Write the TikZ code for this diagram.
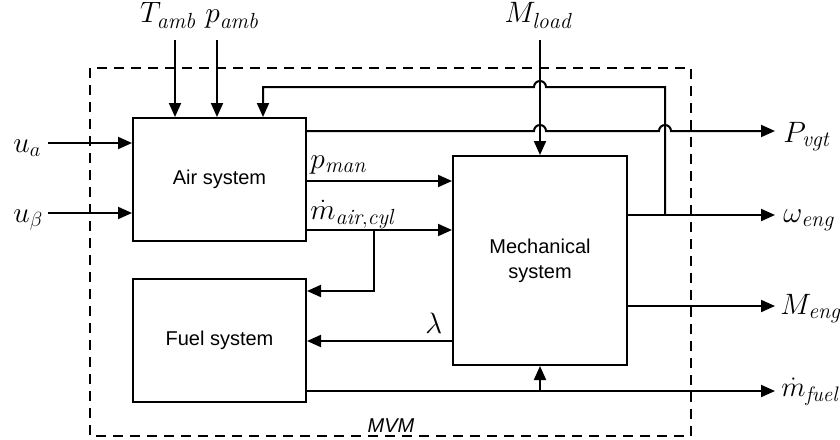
\documentclass[tikz,border=0pt]{standalone}
\usepackage{fontspec}
\setsansfont{Liberation Sans}
\usetikzlibrary{arrows.meta,calc}
\begin{document}
\begin{tikzpicture}[x=1pt,y=-1pt,line width=2pt,
  blk/.style={draw,line width=2pt,inner sep=0pt,align=center,
    font=\sffamily\fontsize{20}{25}\selectfont},
  arr/.style={-{Triangle[length=14pt,width=12pt]}},
  lbl/.style={inner sep=0pt,scale=1.42,font=\fontsize{22}{26}\selectfont},
  mvmbox/.style={dash pattern=on 10pt off 7pt,line width=1.5pt}]
\useasboundingbox (0,0) rectangle (840,439);
% boundary
\draw[mvmbox] (90,68) rectangle (691,436);
\node[inner sep=0pt,anchor=base,font=\sffamily\itshape\fontsize{20}{22}\selectfont] (mvm) at (391,432) {MVM};
% blocks
\node[blk,minimum width=173pt,minimum height=123pt] (air) at (219.5,179.5) {Air system};
\node[blk,minimum width=173pt,minimum height=123pt] (fuel) at (219.5,340.5) {Fuel system};
\node[blk,minimum width=174pt,minimum height=209pt] (mech) at (540,260.5) {Mechanical\\system};
% helper coordinates
\coordinate (tin) at (175,40);
\coordinate (pin) at (217,40);
\coordinate (ua) at (48,143);
\coordinate (ub) at (48,213);
\coordinate (mload) at (540,40);
\coordinate (pv) at (775,131);
\coordinate (om) at (775,215);
\coordinate (me) at (775,306);
\coordinate (mf) at (775,391);
\coordinate (pmy) at (0,181);
\coordinate (mcy) at (0,230);
\coordinate (lay) at (0,341);
\coordinate (brx) at (374,291);
\coordinate (fbx) at (665,87);
\coordinate (fbl) at (263,87);
\coordinate (pvs) at (306,131);
% labels
\node[lbl,anchor=base] (Tamb) at (168,23) {$T_{\mathit{amb}}$};
\node[lbl,anchor=base] (pamb) at (232,23) {$p_{\mathit{amb}}$};
\node[lbl,anchor=base] (Mload) at (538,23) {$M_{\mathit{load}}$};
\node[lbl,anchor=base west] (lua) at (12,152) {$u_a$};
\node[lbl,anchor=base west] (lub) at (12,222) {$u_\beta$};
\node[lbl,anchor=base west] (lpv) at (782,142) {$P_{\mathit{vgt}}$};
\node[lbl,anchor=base west] (lom) at (782,222) {$\omega_{\mathit{eng}}$};
\node[lbl,anchor=base west] (lme) at (779,314) {$M_{\mathit{eng}}$};
\node[lbl,anchor=base west,scale=0.96] (lmf) at (780,396) {$\dot m_{\mathit{fuel}}$};
\node[lbl,anchor=base west] (lpm) at (309,168) {$p_{\mathit{man}}$};
\node[lbl,anchor=base west] (lmc) at (309,219) {$\dot m_{\mathit{air,cyl}}$};
\node[lbl,anchor=base west] (llam) at (424,333) {$\lambda$};
% inputs
\draw[arr] (tin) -- (tin |- air.north);
\draw[arr] (pin) -- (pin |- air.north);
\draw[arr] (ua) -- (ua -| air.west);
\draw[arr] (ub) -- (ub -| air.west);
\draw[arr] (mload) -- (mech.north);
% air to mech
\draw[arr] (pmy -| air.east) -- (pmy -| mech.west);
\draw[arr] (mcy -| air.east) -- (mcy -| mech.west);
\draw[arr] (mcy -| brx) -- (brx) -- (brx -| fuel.east);
% P_vgt with hops
\draw[arr] (pvs) -- (534,131) arc[start angle=180,end angle=0,radius=6pt]
  -- (659,131) arc[start angle=180,end angle=0,radius=6pt] -- (pv);
% feedback
\draw[arr] (om -| fbx) -- (fbx) -- (546,87) arc[start angle=0,end angle=180,radius=6pt]
  -- (fbl) -- (fbl |- air.north);
% mech outputs
\draw[arr] (om -| mech.east) -- (om);
\draw[arr] (me -| mech.east) -- (me);
% lambda
\draw[arr] (lay -| mech.west) -- (lay -| fuel.east);
% fuel output
\draw[arr] (mf -| fuel.east) -- (mf);
\draw[arr] (mf -| mech.south) -- (mech.south);
\end{tikzpicture}
\end{document}
